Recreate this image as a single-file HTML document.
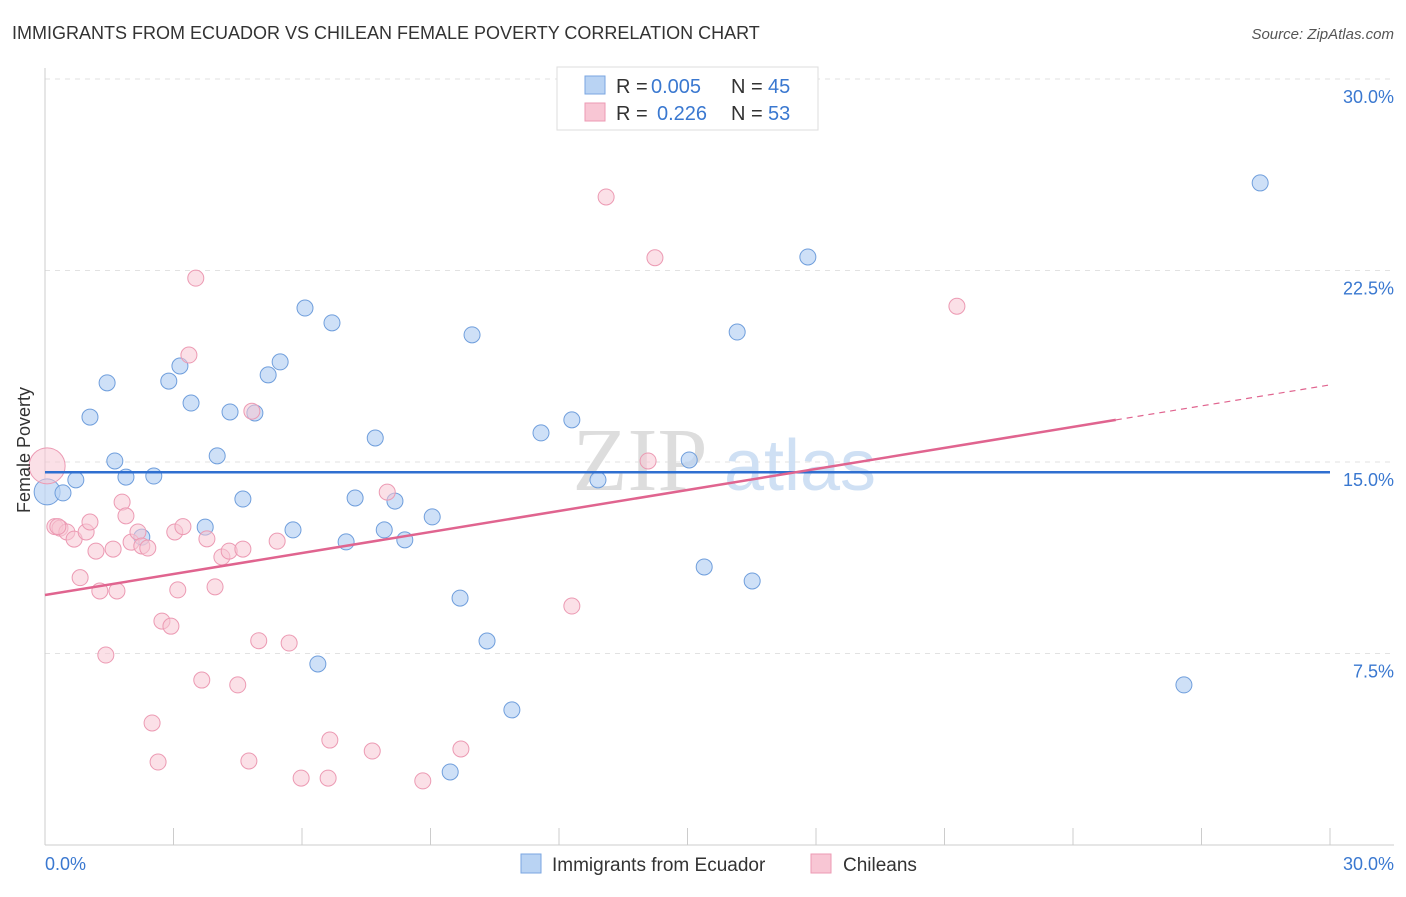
<!DOCTYPE html>
<html><head><meta charset="utf-8"><style>
body{margin:0;background:#fff;font-family:"Liberation Sans",sans-serif}
</style></head><body>
<svg width="1406" height="892" xmlns="http://www.w3.org/2000/svg" font-family="Liberation Sans, sans-serif">
<text x="12" y="39" font-size="18" fill="#333">IMMIGRANTS FROM ECUADOR VS CHILEAN FEMALE POVERTY CORRELATION CHART</text>
<text x="1394" y="39" font-size="15" fill="#555" font-style="italic" text-anchor="end">Source: ZipAtlas.com</text>
<g id="grid"></g>
<text x="640" y="490" font-size="90" fill="#ddd" font-family="Liberation Serif, serif" text-anchor="middle">ZIP</text>
<text x="800" y="490" font-size="72" fill="#cfe0f4" text-anchor="middle">atlas</text>
<g id="pts"></g>
<g id="lines"></g>
<text x="36" y="456" font-size="18" fill="#333" text-anchor="middle" transform="rotate(-90 30 456)">Female Poverty</text>
<text x="45" y="870" font-size="18" fill="#3a78d0">0.0%</text>
<text x="1394" y="870" font-size="18" fill="#3a78d0" text-anchor="end">30.0%</text>
<g>
<rect x="557" y="67" width="261" height="63" fill="#fff" stroke="#ddd"/>
<rect x="585" y="76" width="20" height="18" fill="#b9d3f3" stroke="#7aa6e0"/>
<rect x="585" y="103" width="20" height="18" fill="#f8c6d4" stroke="#ec9ab3"/>
<text x="616" y="93" font-size="20" fill="#333">R =</text>
<text x="651" y="93" font-size="20" fill="#3a78d0">0.005</text>
<text x="731" y="93" font-size="20" fill="#333">N =</text>
<text x="768" y="93" font-size="20" fill="#3a78d0">45</text>
<text x="616" y="120" font-size="20" fill="#333">R =</text>
<text x="657" y="120" font-size="20" fill="#3a78d0">0.226</text>
<text x="731" y="120" font-size="20" fill="#333">N =</text>
<text x="768" y="120" font-size="20" fill="#3a78d0">53</text>
</g>
<g>
<rect x="521" y="854" width="20" height="19" fill="#b9d3f3" stroke="#7aa6e0"/>
<text x="552" y="871" font-size="19" fill="#333">Immigrants from Ecuador</text>
<rect x="811" y="854" width="20" height="19" fill="#f8c6d4" stroke="#ec9ab3"/>
<text x="843" y="871" font-size="19" fill="#333">Chileans</text>
</g>
</svg>
<script>
const blueX=[0.05,0.42,0.72,1.05,1.45,1.63,1.89,2.54,2.89,3.15,3.41,4.02,4.32,4.62,4.9,3.74,5.21,5.49,5.79,6.07,6.7,6.37,7.03,7.24,7.71,7.92,8.17,8.4,9.04,9.69,9.97,10.32,10.9,9.46,11.58,12.3,12.91,15.04,15.39,16.16,16.51,17.81,26.59,28.37,2.26];
const blueY=[13.83,13.79,14.3,16.76,18.1,15.04,14.41,14.45,18.17,18.76,17.31,15.24,16.96,13.55,16.92,12.45,18.41,18.92,12.34,21.03,20.45,7.09,11.87,13.59,15.94,12.34,13.47,11.95,12.85,9.67,19.98,7.99,5.29,2.86,16.14,16.65,14.3,15.08,10.89,20.09,10.34,23.03,6.27,25.93,12.06];
const pinkX=[0.05,0.23,0.35,0.51,0.68,0.82,0.96,1.05,1.19,1.28,1.42,1.59,1.68,1.8,1.89,2.01,2.17,2.26,2.4,2.5,2.64,2.73,2.94,3.03,3.1,3.22,3.36,3.52,3.66,3.78,3.97,4.13,4.3,4.5,4.62,4.76,4.83,4.99,5.42,5.7,5.98,6.61,6.65,7.64,7.99,8.82,9.71,12.3,13.1,14.08,14.24,21.29,0.3];
const pinkY=[14.85,12.47,12.41,12.26,11.98,10.47,12.26,12.65,11.51,9.95,7.44,11.59,9.95,13.43,12.89,11.86,12.26,11.71,11.63,4.78,3.25,8.77,8.57,12.26,9.99,12.47,19.19,22.2,6.46,11.99,10.11,11.28,11.51,6.27,11.59,3.29,16.99,8.0,11.9,7.91,2.62,2.62,4.11,3.68,13.82,2.51,3.76,9.36,25.38,15.04,23.0,21.1,12.47];
const blueLine=[14.6,14.6];
const pinkLine=[9.79,18.02];
const xTicks=[0,3,6,9,12,15,18,21,24,27,30];
const yTicks=[7.5,15,22.5,30];
const yTickLabels=["7.5%","15.0%","22.5%","30.0%"];
const NS="http://www.w3.org/2000/svg";
const X=v=>45+v*42.833, Y=v=>845-v*25.533;
function mk(tag,attrs,parent){const e=document.createElementNS(NS,tag);for(const k in attrs)e.setAttribute(k,attrs[k]);parent.appendChild(e);return e;}
const grid=document.getElementById('grid');
yTicks.forEach((t,i)=>{
 const l=mk('line',{x1:45,x2:1394,y1:Y(t),y2:Y(t),stroke:'#e2e2e2','stroke-dasharray':'5,5'},grid);
 
 
 const tx=mk('text',{x:1394,y:Y(t)+24,'font-size':18,fill:'#3a78d0','text-anchor':'end'},grid);
 tx.textContent=yTickLabels[i];
 
 
});
const ax=mk('line',{x1:45,x2:1394,y1:845,y2:845,stroke:'#ccc'},grid);


const ay=mk('line',{x1:45,x2:45,y1:68,y2:845,stroke:'#ccc'},grid);


xTicks.forEach(t=>{
 const l=mk('line',{x1:X(t),x2:X(t),y1:828,y2:845,stroke:'#ccc'},grid);
 
 
});
const pts=document.getElementById('pts');
blueX.forEach((v,i)=>{
 const c=mk('circle',{cx:X(v),cy:Y(blueY[i]),r:i==0?13:8,fill:'#b9d3f3','fill-opacity':0.7,stroke:'#6f9edc','stroke-width':1},pts);
 
 
});
pinkX.forEach((v,i)=>{
 const c=mk('circle',{cx:X(v),cy:Y(pinkY[i]),r:i==0?18:8,fill:'#f8c6d4','fill-opacity':0.55,stroke:'#ec9ab3','stroke-width':1},pts);
 
 
});
const lines=document.getElementById('lines');
const bl=mk('line',{x1:X(0),x2:X(30),y1:Y(blueLine[0]),y2:Y(blueLine[1]),stroke:'#2f6fd0','stroke-width':2.5},lines);


const xs=25;
const pm=pinkLine[0]+(pinkLine[1]-pinkLine[0])*xs/30;
const pl=mk('line',{x1:X(0),x2:X(xs),y1:Y(pinkLine[0]),y2:Y(pm),stroke:'#e0648f','stroke-width':2.5},lines);


const pd=mk('line',{x1:X(xs),x2:X(30),y1:Y(pm),y2:Y(pinkLine[1]),stroke:'#e0648f','stroke-width':1.2,'stroke-dasharray':'6,5'},lines);


</script>
</body></html>
